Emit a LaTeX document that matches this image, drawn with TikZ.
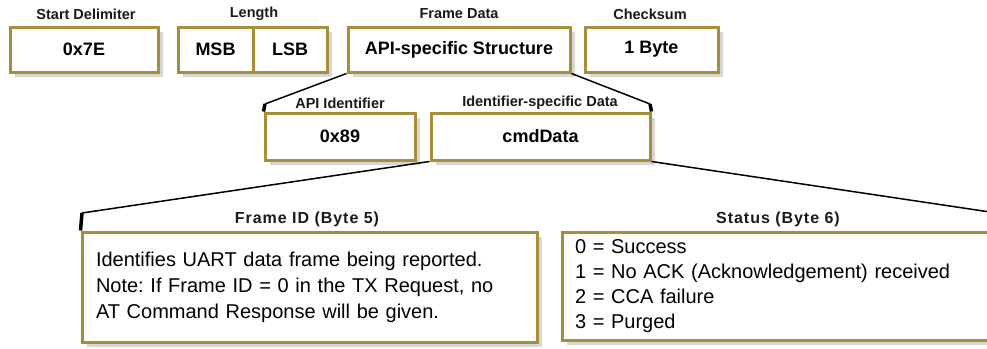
\documentclass[tikz,border=0pt]{standalone}
\usepackage{fontspec}
\setmainfont{Liberation Sans}
\usetikzlibrary{shadows}
\definecolor{gold}{RGB}{166,142,58}
\definecolor{shade}{RGB}{214,214,214}
\tikzset{
  fbox/.style={draw=gold, line width=3pt, fill=white, inner sep=0pt,
    drop shadow={shadow xshift=5pt, shadow yshift=-5pt, fill=shade, opacity=1}},
  hbox/.style={fbox, font=\bfseries\fontsize{18}{20}\selectfont},
  lbl/.style={font=\bfseries\fontsize{14.5}{16}\selectfont, text=black!90, inner sep=0pt},
  blbl/.style={font=\bfseries\fontsize{16}{18}\selectfont\addfontfeature{LetterSpace=6}, text=black!90, inner sep=0pt},
  body/.style={fbox, align=left, font=\fontsize{20}{26}\selectfont, inner xsep=14pt},
  conn/.style={line width=1.5pt, black},
  tickline/.style={line width=3.5pt, black}
}
\frenchspacing
\begin{document}
\begin{tikzpicture}[x=1pt,y=-1pt]
\useasboundingbox (0,0) rectangle (987,348);
\clip (0,0) rectangle (987,348);
% row 1
\node[hbox, minimum width=148pt, minimum height=45pt] (sd) at (84,49.5) {0x7E};
\node[hbox, minimum width=75pt, minimum height=45pt] (msb) at (215.5,49.5) {MSB};
\node[hbox, minimum width=74pt, minimum height=45pt] (lsb) at (290,49.5) {LSB};
\node[hbox, minimum width=222pt, minimum height=45pt] (fd) at (459,49.5) {API-specific Structure};
\node[hbox, minimum width=133pt, minimum height=45pt] (cs) at (651.5,49.5) {1 Byte};
\node[lbl] (lsd) at (86,14) {Start Delimiter};
\node[lbl] (llen) at (254,14) {Length};
\node[lbl] (lfd) at (459,14) {Frame Data};
\node[lbl] (lcs) at (650,14) {Checksum};
% row 2
\node[hbox, minimum width=150pt, minimum height=47pt] (api) at (340,136.5) {0x89};
\node[hbox, minimum width=219pt, minimum height=47pt] (cmd) at (540.5,136.5) {cmdData};
\node[lbl] (lapi) at (340,103) {API Identifier};
\node[lbl] (lcmd) at (540,103) {Identifier-specific Data};
\coordinate (k1) at (265,104);
\coordinate (k2) at (650,104);
\draw[conn] (fd.south west) -- (k1);
\draw[tickline] (k1) -- (api.north west);
\draw[conn] (fd.south east) -- (k2);
\draw[tickline] (k2) -- (cmd.north east);
% row 3
\node[body, minimum width=455pt, minimum height=110pt, text width=427pt] (fid) at (309.5,287)
  {Identifies UART data frame being reported.\\Note: If Frame ID = 0 in the TX Request, no\\AT Command Response will be given.};
\node[body, minimum width=438pt, minimum height=108pt, text width=412pt, inner xsep=13pt, font=\fontsize{20}{25}\selectfont] (st) at (781,286)
  {0 = Success\\1 = No ACK (Acknowledgement) received\\2 = CCA failure\\3 = Purged};
\node[blbl] (lfid) at (307,219) {Frame ID (Byte 5)};
\node[blbl] (lst) at (778,219) {Status (Byte 6)};
\coordinate (k3) at (82,213);
\coordinate (k4) at (1000,213.5);
\draw[conn] (cmd.south west) -- (k3);
\draw[tickline] (k3) -- (fid.north west);
\draw[conn] (cmd.south east) -- (k4);
\draw[tickline] (k4) -- (st.north east);
\end{tikzpicture}
\end{document}
